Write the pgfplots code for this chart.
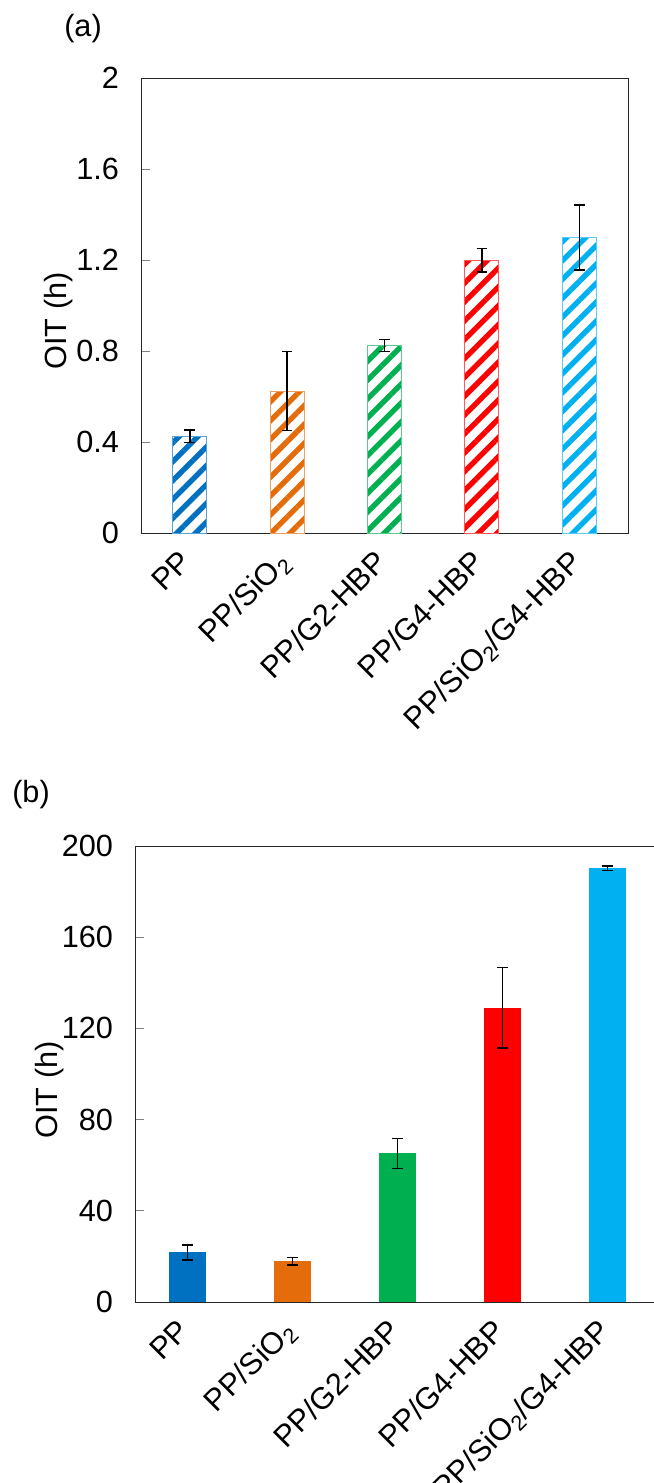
\documentclass[border=0pt]{standalone}
\usepackage{pgfplots}
\pgfplotsset{compat=1.18}
\usepackage{fontspec}
\setmainfont{Liberation Sans}
\usetikzlibrary{patterns.meta}
\definecolor{cblue}{HTML}{0070C0}
\definecolor{corange}{HTML}{E46C0A}
\definecolor{cgreen}{HTML}{00B050}
\definecolor{cred}{HTML}{FF0000}
\definecolor{ccyan}{HTML}{00B0F0}
\newcommand{\bigf}{\fontsize{23}{27}\selectfont}
\pgfplotsset{
  oit/.style={
    scale only axis,
    anchor=south west,
    xmin=-0.5, xmax=4.5,
    ymin=0,
    xtick={0,1,2,3,4},
    xticklabels={PP, PP/SiO\textsubscript{2}, PP/G2-HBP, PP/G4-HBP, PP/SiO\textsubscript{2}/G4-HBP},
    xtick style={draw=none},
    ytick pos=left,
    tick align=inside,
    major tick length=6.75pt,
    ytick style={gray, line width=0.75pt},
    axis line style={line width=0.75pt, black!85},
    tick label style={font=\bigf},
    /pgf/number format/assume math mode=true,
    yticklabel style={xshift=-13pt},
    xticklabel style={rotate=45, anchor=north east, xshift=-6pt, yshift=6pt},
    ylabel={OIT (h)},
    ybar, bar width=0.35,
    clip=false,
  },
  hatch/.style={bar shift=0pt, pattern={Lines[angle=45,distance=10pt,line width=4pt]}, pattern color=#1, draw=#1!65, line width=0.75pt},
  solid/.style={bar shift=0pt, fill=#1, draw=none},
  eb/.style={error bars/.cd, y dir=both, y explicit,
    error bar style={black, line width=1.2pt},
    error mark options={rotate=90, mark size=4pt, line width=1.2pt, black}},
}
\begin{document}
\begin{tikzpicture}
% panel (a)
\begin{axis}[oit, at={(105.75pt,-399.75pt)}, width=365.25pt, height=341.25pt,
  ymax=2, ytick={0,0.4,0.8,1.2,1.6,2},
  every axis y label/.style={at={(axis description cs:-0.17,0.466)}, rotate=90, anchor=center, font=\bigf}]
\addplot[hatch=cblue, eb] coordinates {(0,0.425) +- (0,0.027)};
\addplot[hatch=corange, eb] coordinates {(1,0.624) +- (0,0.174)};
\addplot[hatch=cgreen, eb] coordinates {(2,0.824) +- (0,0.027)};
\addplot[hatch=cred, eb] coordinates {(3,1.199) +- (0,0.052)};
\addplot[hatch=ccyan, eb] coordinates {(4,1.299) +- (0,0.143)};
\end{axis}
% panel (b)
\begin{axis}[oit, at={(101.25pt,-976.5pt)}, width=393.75pt, height=342pt,
  ymax=200, ytick={0,40,80,120,160,200},
  every axis y label/.style={at={(axis description cs:-0.162,0.465)}, rotate=90, anchor=center, font=\bigf}]
\addplot[solid=cblue, eb] coordinates {(0,21.8) +- (0,3.3)};
\addplot[solid=corange, eb] coordinates {(1,17.9) +- (0,1.6)};
\addplot[solid=cgreen, eb] coordinates {(2,65.2) +- (0,6.6)};
\addplot[solid=cred, eb] coordinates {(3,129.0) +- (0,17.7)};
\addplot[solid=ccyan, eb] coordinates {(4,190.2) +- (0,1.0)};
\end{axis}
\node[font=\bigf] at (62.25pt,-21.5pt) {(a)};
\node[font=\bigf] at (23.25pt,-596pt) {(b)};
\pgfresetboundingbox
\path[use as bounding box] (0,0) rectangle (489.75pt,-1112.25pt);
\end{tikzpicture}
\end{document}
